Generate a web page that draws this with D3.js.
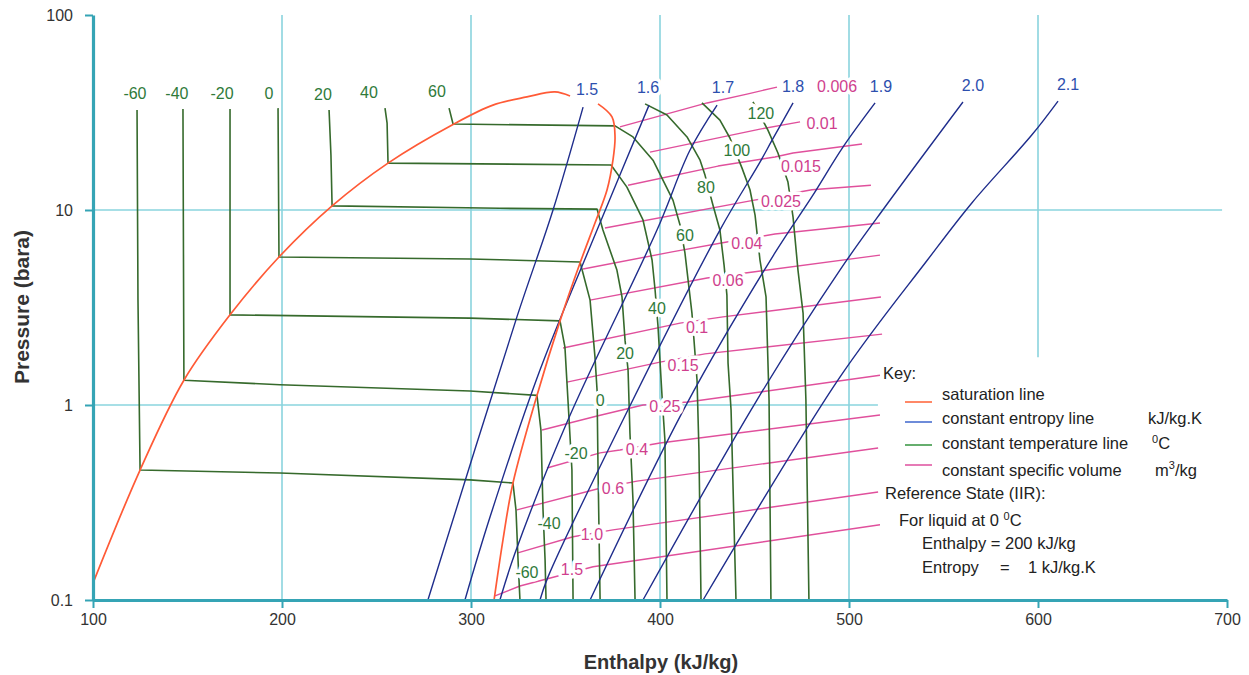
<!DOCTYPE html>
<html>
<head>
<meta charset="utf-8">
<script src="https://cdn.jsdelivr.net/npm/d3@7"></script>
<style>
body{margin:0;background:#fff}
svg{display:block;font-family:"Liberation Sans",Arial,sans-serif}
.halo{paint-order:stroke;stroke:#fff;stroke-width:7px;stroke-linejoin:round}
</style>
</head>
<body>
<svg width="1249" height="675"></svg>
<script>
// points are [enthalpy kJ/kg, pressure bara]
var satLiquid = [[100,0.122],[124.9,0.464],[148.1,1.34],[172.5,2.90],[198.4,5.74],[226.5,10.5],[256.1,17.4],[290.0,27.3],[311.6,34.5],[329.6,38.0],[344.4,40.3],[352.4,38.4]];
var satVapour = [[367.2,35.0],[374.6,30.0],[376.2,23.7],[375.1,18.0],[372.0,12.7],[365.6,8.57],[357.7,5.35],[347.1,2.70],[334.9,1.12],[322.2,0.398],[316.9,0.203],[312.2,0.1]];

// constant temperature lines, deg C
var tM60 = [[123.3,32.6],[123.8,3.45],[124.9,0.464],[198.9,0.448],[299.5,0.413],[322.2,0.398],[323.8,0.290],[324.9,0.160],[325.9,0.1]];
var tM40 = [[147.6,33.0],[148.1,1.34],[198.9,1.27],[299.5,1.18],[334.9,1.12],[337.0,0.744],[338.1,0.290],[339.2,0.160],[339.7,0.1]];
var tM20 = [[172.5,33.0],[172.5,2.90],[299.5,2.79],[347.1,2.70],[349.7,1.98],[351.3,1.06],[352.4,0.685],[353.4,0.464],[354.0,0.1]];
var t0 = [[197.9,33.3],[198.4,5.74],[299.5,5.61],[357.7,5.41],[363.0,3.45],[365.6,1.76],[366.7,1.19],[367.2,0.481],[368.3,0.1]];
var t20 = [[224.9,32.6],[225.9,19.1],[226.5,10.5],[315.3,10.2],[366.7,10.1],[369.8,7.89],[377.2,4.92],[379.9,3.58],[381.5,2.15],[383.1,1.51],[384.1,0.718],[385.7,0.326],[386.8,0.1]];
var t40 = [[254.5,33.3],[255.6,27.9],[256.1,17.4],[374.1,17.0],[382.5,13.1],[391.0,8.89],[395.8,5.54],[397.4,3.89],[398.9,2.57],[401.1,1.10],[402.6,0.662],[403.7,0.1]];
var t60 = [[288.4,33.3],[290.5,27.6],[376.2,27.0],[385.7,23.7],[396.3,18.0],[406.9,11.2],[410.6,8.37],[413.2,6.02],[416.9,2.96],[419.6,1.34],[420.6,0.588],[421.7,0.1]];
var t80 = [[392.1,35.0],[403.7,30.7],[414.3,23.7],[421.2,18.0],[423.8,15.1],[428.0,10.6],[431.7,7.89],[433.9,5.22],[435.4,3.66],[436.0,1.64],[437.6,0.942],[440.2,0.1]];
var t100 = [[422.2,35.4],[431.7,28.9],[437.0,23.4],[443.4,16.4],[447.6,12.7],[450.3,9.42],[452.9,5.54],[456.1,3.58],[457.7,1.06],[458.7,0.1]];
var t120 = [[449.2,35.8],[457.1,25.7],[462.4,19.6],[467.7,13.9],[470.4,9.20],[473.0,4.92],[475.7,2.96],[477.2,1.06],[478.8,0.1]];

// constant entropy lines, kJ/kg.K
var s15 = [[359.3,33.7],[343.4,10.0],[324.3,2.83],[277.2,0.1]];
var s16 = [[394.2,34.5],[366.7,7.89],[336.5,1.51],[310.1,0.267],[296.8,0.1]];
var s17 = [[430.2,34.5],[415.9,20.3],[398.4,7.89],[351.3,0.838],[323.3,0.174],[315.3,0.1]];
var s18 = [[470.4,35.4],[459.3,22.8],[452.9,17.6],[431.7,7.89],[380.4,0.838],[340.7,0.131],[336.5,0.1]];
var s19 = [[513.8,35.4],[496.8,21.0],[480.4,11.7],[460.8,6.02],[414.3,1.02],[363.0,0.1]];
var s20 = [[560.3,35.8],[520.1,10.7],[495.2,4.92],[451.3,1.06],[391.0,0.1]];
var s21 = [[610.6,36.2],[596.8,24.3],[565.1,10.9],[541.5,5.54],[495.2,1.39],[422.8,0.1]];

// constant specific volume lines, m3/kg
var v0006 = [[378.8,26.7],[424.9,35.4],[446.0,39.3],[461.9,42.7]];
var v001 = [[394.7,19.8],[452.9,26.0],[474.1,28.3]];
var v0015 = [[383.1,13.4],[430.7,16.8],[460.8,18.7],[470.4,19.6],[506.9,21.8]];
var v0025 = [[370.9,8.09],[449.2,11.2],[480.4,12.7],[511.6,13.4]];
var v004 = [[359.3,4.98],[406.4,6.10],[435.4,6.85],[460.8,7.53],[516.4,8.57]];
var v006 = [[363.0,3.45],[424.9,4.48],[449.2,4.81],[516.4,5.87]];
var v01 = [[348.7,1.96],[410.6,2.63],[433.3,2.83],[516.9,3.58]];
var v015 = [[350.8,1.31],[400.0,1.66],[423.8,1.83],[517.5,2.31]];
var v025 = [[337.6,0.744],[366.7,0.878],[391.0,1.00],[414.8,1.036],[516.4,1.42]];
var v04 = [[340.2,0.475],[368.3,0.568],[378.8,0.588],[400.0,0.638],[516.4,0.889]];
var v06 = [[324.3,0.290],[366.7,0.371],[387.8,0.407],[515.4,0.602]];
var v10 = [[324.3,0.174],[354.0,0.211],[375.1,0.229],[515.4,0.358]];
var v15 = [[312.7,0.105],[325.9,0.118],[364.6,0.148],[516.4,0.243]];

// labels: [text, h, p]
var liquidTempLabels = [["-60",122.2,39.8],["-40",144.4,39.8],["-20",168.3,39.8],["0",193.1,39.8],["20",221.7,39.3],["40",246.0,40.3],["60",282.0,40.8]];
var vapourTempLabels = [["-60",329.6,0.139],["-40",341.3,0.248],["-20",355.6,0.568],["0",368.3,1.06],["20",381.5,1.85],["40",398.4,3.14],["60",413.2,7.45],["80",424.3,13.1],["100",440.7,20.1],["120",453.4,31.4]];
var entropyLabels = [["1.5",361.4,41.7],["1.6",393.7,42.7],["1.7",433.3,42.7],["1.8",470.4,43.2],["1.9",516.9,43.2],["2.0",565.6,43.8],["2.1",615.9,44.3]];
var volumeLabels = [["0.006",493.7,43.2],["0.01",485.7,27.9],["0.015",474.6,16.8],["0.025",464.0,11.1],["0.04",446.0,6.77],["0.06",436.0,4.38],["0.1",419.6,2.51],["0.15",412.2,1.60],["0.25",402.6,0.988],["0.4",387.8,0.595],["0.6",375.1,0.375],["1.0",364.0,0.216],["1.5",353.4,0.143]];

// grid: [p, hFrom, hTo] and [h, pFrom, pTo]
var gridH = [[10,100,697.4],[1,100,515.3]];
var gridV = [[200,0.1,100],[300,0.1,100],[400,0.1,100],[500,0.1,100],[600,1.76,100]];
var xTicks = [100,200,300,400,500,600,700];
var yTicks = [0.1,1,10,100];

var isotherms = [tM60,tM40,tM20,t0,t20,t40,t60,t80,t100,t120];
var isentropes = [s15,s16,s17,s18,s19,s20,s21];
var isochores = [v0006,v001,v0015,v0025,v004,v006,v01,v015,v025,v04,v06,v10,v15];

var svg = d3.select("svg");
var x = d3.scaleLinear().domain([100,700]).range([93,1227]);
var y = d3.scaleLog().domain([0.1,100]).range([600,15]);
var line = d3.line().x(function(d){return x(d[0]);}).y(function(d){return y(d[1]);});

var grid = svg.append("g").attr("stroke","#8ad4de").attr("stroke-width",1.6);
grid.selectAll(".gh").data(gridH).enter().append("line")
    .attr("x1",function(d){return x(d[1]);}).attr("x2",function(d){return x(d[2]);})
    .attr("y1",function(d){return y(d[0]);}).attr("y2",function(d){return y(d[0]);});
grid.selectAll(".gv").data(gridV).enter().append("line")
    .attr("x1",function(d){return x(d[0]);}).attr("x2",function(d){return x(d[0]);})
    .attr("y1",function(d){return y(d[1]);}).attr("y2",function(d){return y(d[2]);});

function drawSet(data, colour, width, curve) {
    svg.append("g").selectAll("path").data(data).enter().append("path")
        .attr("d", line.curve(curve))
        .attr("fill","none")
        .attr("stroke",colour)
        .attr("stroke-width",width)
        .attr("stroke-linejoin","round");
}
drawSet(isochores, "#e0509c", 1.4, d3.curveLinear);
drawSet(isotherms, "#366a2c", 1.6, d3.curveLinear);
drawSet(isentropes, "#1f2d8c", 1.4, d3.curveCatmullRom);
drawSet([satLiquid, satVapour], "#ff5a36", 1.7, d3.curveCatmullRom);

var gx = svg.append("g")
    .attr("transform","translate(0," + y(0.1) + ")")
    .call(d3.axisBottom(x).tickValues(xTicks).tickSize(8).tickSizeOuter(0).tickPadding(6));
var gy = svg.append("g")
    .attr("transform","translate(" + x(100) + ",0)")
    .call(d3.axisLeft(y).tickValues(yTicks).tickSize(8).tickSizeOuter(0).tickPadding(12)
        .tickFormat(function(d){return d < 1 ? "0.1" : d;}));
[gx, gy].forEach(function(g){
    g.attr("font-family",null).attr("font-size",16);
    g.select(".domain").attr("stroke","#35a4b5").attr("stroke-width",3.2);
    g.selectAll(".tick line").attr("stroke","#35a4b5").attr("stroke-width",2);
    g.selectAll(".tick text").attr("fill","#333");
});

svg.append("text")
    .attr("x",661).attr("y",669)
    .attr("text-anchor","middle").attr("font-weight","bold").attr("font-size",20).attr("fill","#333")
    .text("Enthalpy (kJ/kg)");
svg.append("text")
    .attr("transform","translate(29,307) rotate(-90)")
    .attr("text-anchor","middle").attr("font-weight","bold").attr("font-size",21).attr("fill","#333")
    .text("Pressure (bara)");

function labelSet(data, colour, halo) {
    svg.append("g").selectAll("text").data(data).enter().append("text")
        .attr("class", halo ? "halo" : null)
        .attr("x",function(d){return x(d[1]);})
        .attr("y",function(d){return y(d[2]);})
        .attr("dy","0.35em")
        .attr("text-anchor","middle")
        .attr("font-size",16)
        .attr("fill",colour)
        .text(function(d){return d[0];});
}
labelSet(liquidTempLabels, "#2f7a3a", true);
labelSet(vapourTempLabels, "#2f7a3a", true);
labelSet(entropyLabels, "#2d4fae", true);
labelSet(volumeLabels, "#cf3f8e", true);

// key
var key = svg.append("g").attr("font-size",16.5).attr("fill","#222");
var keyLines = [["#ff6a40",402],["#4a6fd0",422],["#3f9a4a",445],["#e05aa4",465]];
key.selectAll("line").data(keyLines).enter().append("line")
    .attr("x1",905).attr("x2",932)
    .attr("y1",function(d){return d[1];}).attr("y2",function(d){return d[1];})
    .attr("stroke",function(d){return d[0];}).attr("stroke-width",1.6);
key.append("text").attr("x",883).attr("y",379).text("Key:");
key.append("text").attr("x",942).attr("y",400).text("saturation line");
key.append("text").attr("x",942).attr("y",424).text("constant entropy line");
key.append("text").attr("x",1148).attr("y",424).text("kJ/kg.K");
key.append("text").attr("x",942).attr("y",449).text("constant temperature line");
var tc = key.append("text").attr("x",1152).attr("y",449);
tc.append("tspan").attr("font-size",11).attr("dy",-6).text("0");
tc.append("tspan").attr("dy",6).text("C");
key.append("text").attr("x",942).attr("y",476).text("constant specific volume");
var vu = key.append("text").attr("x",1155).attr("y",476);
vu.append("tspan").text("m");
vu.append("tspan").attr("font-size",11).attr("dy",-7).text("3");
vu.append("tspan").attr("dy",7).text("/kg");
key.append("text").attr("x",885).attr("y",499).text("Reference State (IIR):");
var fl = key.append("text").attr("x",899).attr("y",526);
fl.append("tspan").text("For liquid at 0 ");
fl.append("tspan").attr("font-size",11).attr("dy",-6).text("0");
fl.append("tspan").attr("dy",6).text("C");
key.append("text").attr("x",922).attr("y",549).text("Enthalpy = 200 kJ/kg");
key.append("text").attr("x",922).attr("y",573).text("Entropy");
key.append("text").attr("x",1000).attr("y",573).text("=");
key.append("text").attr("x",1028).attr("y",573).text("1 kJ/kg.K");
</script>
</body>
</html>
